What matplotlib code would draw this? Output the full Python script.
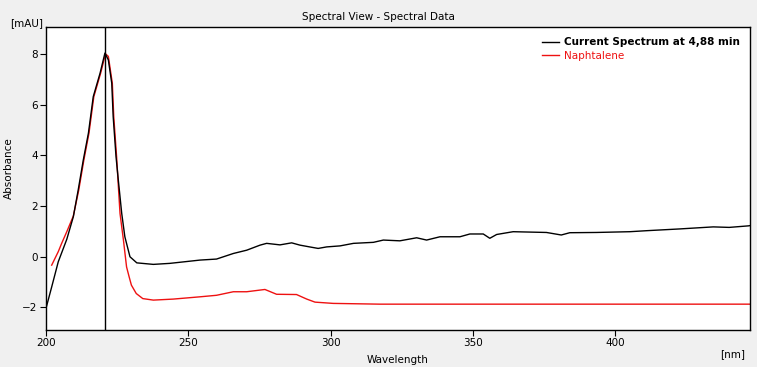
import numpy as np
import matplotlib.pyplot as plt

# Current spectrum (black)
wl_current = [200.2, 202, 204.3, 207.3, 209.6, 211.3, 213.1, 214.9, 216.6, 219, 220.7,
              221.9, 223.1, 223.6, 224.6, 225.4, 226.6, 227.7, 229.5, 231.9, 237.7, 243.5,
              254.1, 259.9, 265.8, 270.5, 275.2, 277.5, 282.2, 286.3, 289.2, 292.6, 295.6,
              298.6, 303.3, 308, 315, 318.5, 324.3, 330.2, 333.7, 338.4, 345.4, 348.9,
              353.6, 355.9, 358.3, 364.1, 375.8, 381, 384, 393.3, 405.1, 411, 422.7,
              434.4, 440, 446.7, 447.3]
ab_current = [-1.96, -1.2, -0.21, 0.68, 1.57, 2.62, 3.81, 4.87, 6.31, 7.24, 8.03,
              7.76, 6.84, 5.52, 3.94, 3.02, 1.7, 0.78, -0.01, -0.25, -0.31, -0.27,
              -0.14, -0.1, 0.12, 0.25, 0.45, 0.52, 0.46, 0.54, 0.45, 0.38, 0.32,
              0.38, 0.42, 0.52, 0.56, 0.65, 0.62, 0.74, 0.65, 0.78, 0.78, 0.89,
              0.89, 0.72, 0.87, 0.98, 0.95, 0.85, 0.94, 0.95, 0.98, 1.02, 1.09,
              1.17, 1.15, 1.21, 1.22]

# Naphtalene reference (red)
wl_ref = [202, 204.3, 205.5, 207.3, 209.6, 211.5, 213.3, 215.1, 216.8, 219.2, 220.9,
          221.9, 223.3, 223.8, 224.8, 225.4, 226, 227.2, 228.3, 229.2, 230, 231.7, 234,
          237.7, 244.7, 254.1, 259.9, 265.8, 270.5, 276.9, 281, 288, 291.6, 294.5,
          300.9, 317.3, 359.5, 447.3]
ab_ref = [-0.34, 0.19, 0.52, 0.98, 1.6, 2.62, 3.81, 4.87, 6.31, 7.24, 8.0,
          7.9, 6.84, 5.52, 3.94, 2.8, 1.7, 0.65, -0.41, -0.8, -1.13, -1.46, -1.66,
          -1.72, -1.68, -1.59, -1.53, -1.39, -1.39, -1.30, -1.49, -1.5, -1.68, -1.8,
          -1.85, -1.88, -1.88, -1.88]

cursor_nm = 220.7
xticks = [200, 250, 300, 350, 400]
yticks = [-2, 0, 2, 4, 6, 8]

W, H = 757, 367
fig = plt.figure(figsize=(W / 100, H / 100), dpi=100, facecolor='#f0f0f0')
ax = fig.add_axes([46 / W, (H - 330) / H, (750 - 46) / W, (330 - 27) / H])
ax.set_facecolor('white')

ax.plot(wl_ref, ab_ref, color='#ee1111', lw=1, label='Naphtalene')
ax.plot(wl_current, ab_current, color='black', lw=1, label='Current Spectrum at 4,88 min')
ax.axvline(cursor_nm, color='black', lw=1)

ax.set_xlim(200, 447.3)
ax.set_ylim(-2.9, 9.06)
ax.set_xticks(xticks)
ax.set_yticks(yticks)
ax.tick_params(labelsize=7.5, length=4, width=0.8, pad=2)
for s in ax.spines.values():
    s.set_linewidth(1)

handles, labels = ax.get_legend_handles_labels()
leg = ax.legend(handles[::-1], labels[::-1], loc='upper right', frameon=False,
                fontsize=7.5, handlelength=1.6, handletextpad=0.5, labelspacing=0.35,
                borderaxespad=0.6, labelcolor='linecolor')
leg.get_texts()[0].set_fontweight('bold')

fig.text(0.5, 1 - 17 / H, 'Spectral View - Spectral Data', ha='center', va='center', fontsize=7.5)
fig.text(10 / W, 1 - 23 / H, '[mAU]', ha='left', va='center', fontsize=7.5)
fig.text(9 / W, 0.5 + 15 / H, 'Absorbance', rotation=90, ha='center', va='center', fontsize=7.5)
fig.text(398 / W, 1 - 360 / H, 'Wavelength', ha='center', va='center', fontsize=7.5)
fig.text(745 / W, 1 - 354 / H, '[nm]', ha='right', va='center', fontsize=7.5)

fig.savefig('out.png', dpi=100, facecolor=fig.get_facecolor())
